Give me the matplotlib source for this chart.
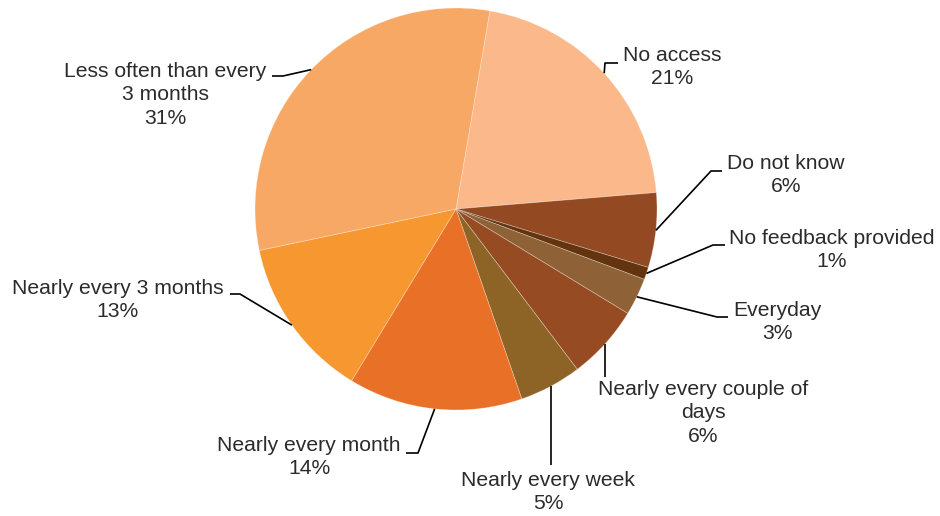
import numpy as np
import matplotlib
matplotlib.use("Agg")
import matplotlib.pyplot as plt

plt.rcParams["font.family"] = ["Liberation Sans", "DejaVu Sans"]

# ── data ──────────────────────────────────────────────────────────────────────
categories = [
    "No access",
    "Do not know",
    "No feedback provided",
    "Everyday",
    "Nearly every couple of\ndays",
    "Nearly every week",
    "Nearly every month",
    "Nearly every 3 months",
    "Less often than every\n3 months",
]
shares = [21, 6, 1, 3, 6, 5, 14, 13, 31]
colors = [
    "#FBB98B", "#934A22", "#64340F", "#8F6136", "#974B22",
    "#8E6326", "#E97127", "#F7972F", "#F8A865",
]

# ── layout (pixel space, y up) ────────────────────────────────────────────────
W, H = 940, 516
CX, CY, R = 456, H - 209, 201

# (elbow x, elbow y, end x, end y, text x, text y) per slice, image coords
# elbow x of None -> leader runs straight down from the slice edge
LABEL_POS = [
    (605, 63, 618, 63, 672, 67),
    (711, 171, 722, 171, 786, 175),
    (713, 245, 725, 245, 832, 250),
    (717, 317, 728, 317, 777, 322),
    (None, 377, None, 377, 703, 413),
    (None, 465, None, 465, 548, 492),
    (418, 453, 406, 453, 309, 457),
    (240, 294, 230, 294, 118, 300),
    (283, 76, 272, 76, 165, 95),
]

fig = plt.figure(figsize=(W / 100, H / 100), dpi=100)
ax = fig.add_axes([0, 0, 1, 1])

wedges, _ = ax.pie(
    shares, colors=colors, startangle=80.3, counterclock=False,
    center=(CX, CY), radius=R,
    wedgeprops=dict(edgecolor=(1, 1, 1, 0.3), linewidth=0.6),
)
ax.set_xlim(0, W)
ax.set_ylim(0, H)
ax.set_aspect("equal")
ax.axis("off")

for w, cat, pct, pos in zip(wedges, categories, shares, LABEL_POS):
    ex, ey, hx, hy, tx, ty = pos
    mid = np.radians((w.theta1 + w.theta2) / 2)
    px, py = CX + R * np.cos(mid), CY + R * np.sin(mid)
    if ex is None:
        ex = hx = px
    ax.plot([px, ex, hx], [py, H - ey, H - hy], color="black", lw=1.2,
            solid_capstyle="butt", zorder=5)
    ax.text(tx, H - ty, f"{cat}\n{pct}%", ha="center", va="center",
            fontsize=15.2, color="#2b2b2b", linespacing=1.3)

fig.savefig("out.png", dpi=100)
plt.close(fig)
